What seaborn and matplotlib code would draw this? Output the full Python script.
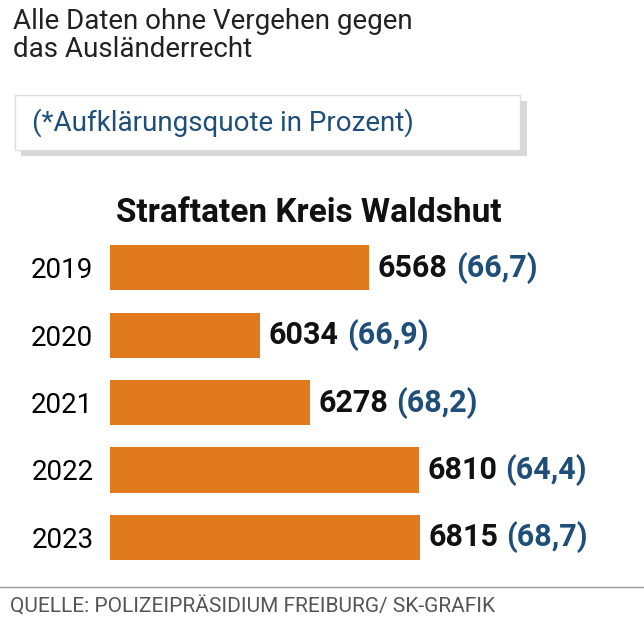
import matplotlib
matplotlib.use("Agg")
import matplotlib.pyplot as plt
import seaborn as sns
import pandas as pd
from matplotlib.patches import Rectangle

years = ["2019", "2020", "2021", "2022", "2023"]
cases = [6568, 6034, 6278, 6810, 6815]
quote = ["66,7", "66,9", "68,2", "64,4", "68,7"]

plt.rcParams["font.family"] = ["Roboto", "DejaVu Sans"]
df = pd.DataFrame({"year": years, "cases": cases})

fig = plt.figure(figsize=(6.44, 6.31), dpi=100)
ax = fig.add_axes([0.171, 0.095, 0.829, 0.534])
sns.barplot(data=df, y="year", x="cases", orient="h", color="#E07A1C",
            saturation=1, width=0.67, ax=ax)
ax.set_xlim(5300, 7910)
for s in ax.spines.values():
    s.set_visible(False)
ax.set_xticks([])
ax.set_xlabel(""); ax.set_ylabel("")
ax.tick_params(axis="y", length=0, labelsize=20, pad=12)
for i, (v, q) in enumerate(zip(cases, quote)):
    t = ax.text(v + 40, i, f"{v}", va="center", ha="left", fontsize=22,
                fontweight="bold", color="#111111")
    fig.canvas.draw()
    bb = t.get_window_extent().transformed(ax.transData.inverted())
    ax.text(bb.x1 + 40, i, f"({q})", va="center", ha="left", fontsize=22,
            fontweight="bold", color="#1F4E79")

fig.text(0.02, 0.988, "Alle Daten ohne Vergehen gegen\ndas Ausländerrecht", va="top",
         ha="left", fontsize=20, color="#222222", linespacing=1.05)
fig.patches.append(Rectangle((0.033, 0.752), 0.785, 0.088, transform=fig.transFigure,
                             facecolor="#D8D8D8", edgecolor="none", zorder=0))
fig.patches.append(Rectangle((0.023, 0.762), 0.785, 0.088, transform=fig.transFigure,
                             facecolor="white", edgecolor="#DDDDDD", zorder=1))
fig.text(0.05, 0.806, "(*Aufklärungsquote in Prozent)", va="center", ha="left",
         fontsize=20, color="#1F4E79", zorder=2)
fig.text(0.18, 0.662, "Straftaten Kreis Waldshut", va="center", ha="left",
         fontsize=24, fontweight="bold", color="#111111")
fig.add_artist(plt.Line2D([0, 1], [0.07, 0.07], transform=fig.transFigure,
                          color="#999999", lw=1))
fig.text(0.015, 0.04, "QUELLE: POLIZEIPRÄSIDIUM FREIBURG/ SK-GRAFIK", va="center",
         ha="left", fontsize=15, color="#555555")
fig.savefig("out.png", dpi=100, facecolor="white")
